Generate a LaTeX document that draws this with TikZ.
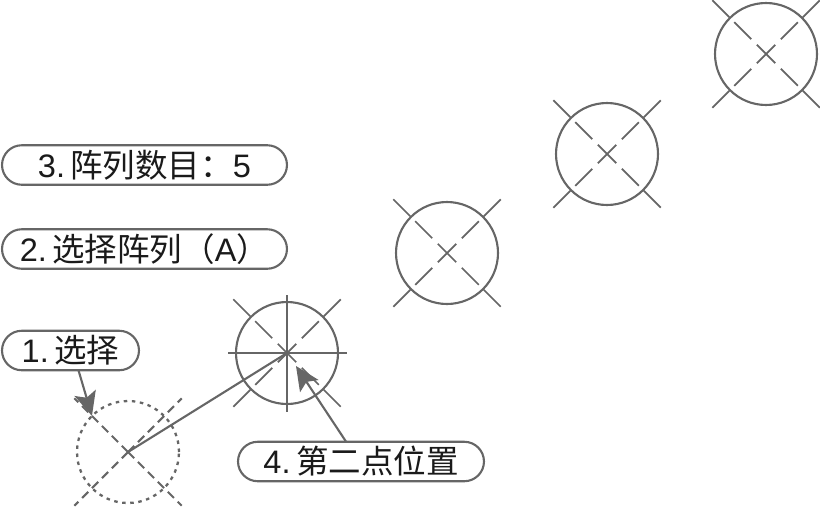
\documentclass[tikz,border=0pt]{standalone}
\usepackage{fontspec}
\setmainfont{Liberation Sans}
\newfontfamily\cjk{Noto Sans CJK SC}
\usetikzlibrary{arrows.meta, shapes.misc}
\definecolor{linegray}{HTML}{666666}
\definecolor{headgray}{HTML}{707070}
\definecolor{textdark}{HTML}{1A1A1A}
\tikzset{
  hole/.style={
    circle, draw=linegray, line width=1.2pt, inner sep=0pt, outer sep=0pt,
    minimum size=2.04cm
  },
  ghost/.style={hole, line width=1.3pt, dash pattern=on 2pt off 2.6pt},
  tick/.style={draw=linegray, line width=1pt},
  ghosttick/.style={tick, line width=1.2pt, dash pattern=on 5pt off 3pt},
  callout/.style={
    rounded rectangle, draw=linegray, line width=1.2pt, fill=white,
    inner sep=0pt, outer sep=0pt, minimum height=0.79cm,
    text=textdark, font=\fontsize{18.5}{18.5}\selectfont
  },
  arrow/.style={-{Stealth[length=0.48cm,width=0.44cm,inset=0.1cm]}, line width=1.2pt, draw=linegray},
  link/.style={line width=1.2pt, draw=linegray}
}

\begin{document}
\begin{tikzpicture}[x=0.02cm, y=-0.02cm]
  \useasboundingbox (0,0) rectangle (820,507);
  % the five holes
  \node[ghost] (holeA) at (128,452) {};
  \node[hole] (holeB) at (287,353) {};
  \node[hole] (holeC) at (447,253) {};
  \node[hole] (holeD) at (607,154) {};
  \node[hole] (holeE) at (766,54) {};
  \foreach \n in {holeB,holeC,holeD,holeE}
    \foreach \a in {45,135,225,315} {
      \draw[tick] (\n.center) ++(\a:52) -- ++(\a:24);
      \draw[tick] (\n.center) ++(\a:21) -- ++(\a:24);
      \draw[tick] (\n.center) -- ++(\a:13);
    }
  \foreach \a in {45,135,225,315}
    \draw[ghosttick] (holeA.center) -- ++(\a:76);
  % cross on the second hole
  \coordinate (crossL) at (228,353);
  \coordinate (crossR) at (347,353);
  \coordinate (crossT) at (287,295);
  \coordinate (crossB) at (287,412);
  \draw[link] (crossL) -- (crossR);
  \draw[link] (crossT) -- (crossB);
  \draw[link] (holeA.center) -- (holeB.center);

  \node[callout, minimum width=5.7cm] (count) at (144.5,165) {3.\,{\cjk 阵列数目：}5};
  \node[callout, minimum width=5.7cm] (array) at (144.5,249) {2.\,{\cjk 选择阵列（}A{\cjk ）}};
  \node[callout, minimum width=2.74cm] (pick) at (70.5,350.5) {1.\,{\cjk 选择}};
  \node[callout, minimum width=4.92cm] (second) at (361,461.5) {4.\,{\cjk 第二点位置}};

  \coordinate (tipB) at (296,366);
  \draw[arrow] (pick.-68) -- (holeA.135);
  \draw[arrow] (second.127) -- (tipB);
\end{tikzpicture}
\end{document}
